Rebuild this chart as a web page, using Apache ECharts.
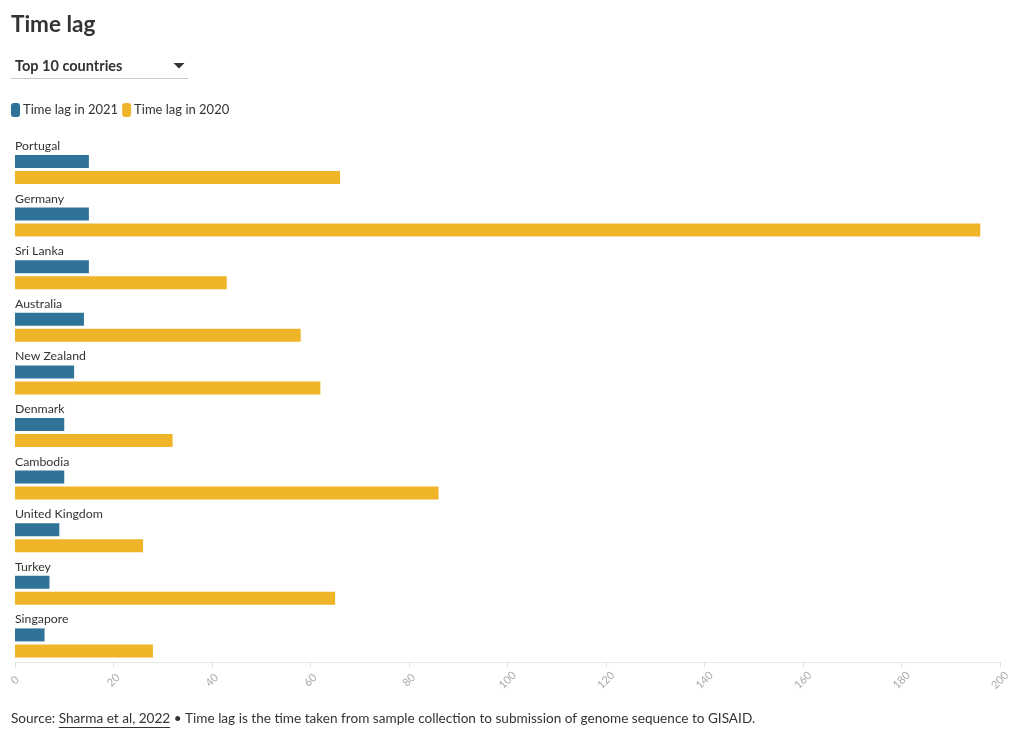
<!DOCTYPE html>
<html>
<head>
<meta charset="utf-8">
<script src="https://cdn.jsdelivr.net/npm/echarts@6/dist/echarts.min.js"></script>
<style>
html,body{margin:0;padding:0;background:#fff;}
#chart{width:1020px;height:739px;}
</style>
</head>
<body>
<div id="chart"></div>
<script>
const categories = ["Portugal","Germany","Sri Lanka","Australia","New Zealand","Denmark","Cambodia","United Kingdom","Turkey","Singapore"];
const lag2021 = [15,15,15,14,12,10,10,9,7,6];
const lag2020 = [66,196,43,58,62,32,86,26,65,28];
const xTicks = [0,20,40,60,80,100,120,140,160,180,200];

const FONT = 'Lato, "Noto Sans", sans-serif';
const srcA = 'Source: ';
const srcLink = 'Sharma et al, 2022';
const srcB = ' • Time lag is the time taken from sample collection to submission of genome sequence to GISAID.';
const SRC_SIZE = 13.6;
const mctx = document.createElement('canvas').getContext('2d');
mctx.font = SRC_SIZE + 'px ' + FONT;
const wA = mctx.measureText(srcA).width;
const wL = mctx.measureText(srcLink).width;
const SX = 11, SY = 712;

const chart = echarts.init(document.getElementById('chart'), null, {renderer:'canvas'});
chart.setOption({
  animation:false,
  textStyle:{fontFamily:FONT},
  title:[
    {text:'Time lag', left:11, top:13, padding:0, textStyle:{fontFamily:FONT, fontSize:22.5, fontWeight:'bold', color:'#333'}},
    {text:'Top 10 countries', left:15, top:58.5, padding:0, textStyle:{fontFamily:FONT, fontSize:14.5, fontWeight:'bold', color:'#333'}}
  ],
  graphic:[
    {type:'line', shape:{x1:11,y1:78.5,x2:188,y2:78.5}, style:{stroke:'#c8c8c8', lineWidth:1}},
    {type:'polygon', shape:{points:[[173.5,63],[184.5,63],[179,68.5]]}, style:{fill:'#333'}},
    {type:'text', left:SX, top:SY, style:{text:srcA + srcLink + srcB, font:SRC_SIZE + 'px ' + FONT, fill:'#333'}},
    {type:'line', shape:{x1:SX + wA, y1:SY + 15.5, x2:SX + wA + wL, y2:SY + 15.5}, style:{stroke:'#333', lineWidth:1}}
  ],
  legend:{
    left:11, top:103, padding:0, itemWidth:9, itemHeight:14, itemGap:4,
    icon:'path://M3,0 L6,0 Q9,0 9,3 L9,11 Q9,14 6,14 L3,14 Q0,14 0,11 L0,3 Q0,0 3,0 Z',
    textStyle:{fontFamily:FONT, fontSize:13, color:'#333', padding:[0,0,0,-2]},
    data:['Time lag in 2021','Time lag in 2020']
  },
  grid:{left:15, right:20, top:143.2, bottom:739-669.2, containLabel:false},
  xAxis:{
    type:'value', min:0, max:200, interval:20, offset:-7,
    axisLine:{show:true, lineStyle:{color:'#e6e6e6'}},
    axisTick:{show:true, length:5, lineStyle:{color:'#e0e0e0'}},
    splitLine:{show:false},
    axisLabel:{rotate:45, align:'center', verticalAlign:'middle', margin:18, color:'#aaa', fontSize:11, fontFamily:FONT,
      formatter:function(v){return xTicks.indexOf(v)>=0?String(v):'';}}
  },
  yAxis:{
    type:'category', inverse:true, data:categories,
    axisLine:{show:false}, axisTick:{show:false}, axisLabel:{show:false}, splitLine:{show:false}
  },
  series:[
    {name:'Time lag in 2021', type:'bar', data:lag2021, barWidth:13, barGap:'23%',
     itemStyle:{color:'#2f7399'},
     label:{show:true, position:[0,-3], align:'left', verticalAlign:'bottom', formatter:'{b}', color:'#333', fontSize:12.3, fontFamily:FONT}},
    {name:'Time lag in 2020', type:'bar', data:lag2020, barWidth:13,
     itemStyle:{color:'#f0b429'}}
  ]
});
</script>
</body>
</html>
